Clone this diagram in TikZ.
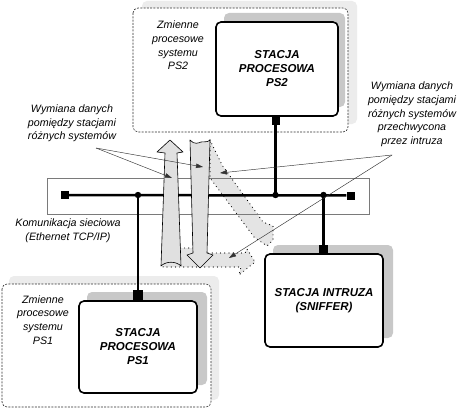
\documentclass[tikz,border=0pt]{standalone}
\usepackage{fontspec}
\setmainfont{Liberation Sans}
\usetikzlibrary{arrows.meta}
\definecolor{shadowgray}{HTML}{C8C8C8}
\definecolor{framegray}{HTML}{ECECEC}
\definecolor{arrowfill}{HTML}{E0E0E0}
\definecolor{bandfill}{HTML}{E4E4E4}
\definecolor{netgray}{HTML}{7A7A7A}
\definecolor{dashgray}{HTML}{303030}
\begin{document}
\begin{tikzpicture}[x=1pt,y=-1pt,
  stationbox/.style={draw=black,line width=1.6pt,rounded corners=5pt,fill=white,inner sep=0pt,align=center,
    font=\fontsize{11.5}{14}\selectfont\bfseries\itshape},
  boxshadow/.style={fill=shadowgray,rounded corners=5pt},
  frameshadow/.style={fill=framegray,rounded corners=5pt},
  sysframe/.style={draw=dashgray,line width=0.6pt,dash pattern=on 2pt off 1.3pt,rounded corners=5pt},
  labeltext/.style={align=center,inner sep=0pt,font=\fontsize{10.7}{13.7}\selectfont\itshape},
  termsq/.style={fill=black,inner sep=0pt,draw=none},
  busline/.style={line width=2.5pt,black},
  netbox/.style={draw=netgray,line width=0.6pt},
  bigarrow/.style={fill=arrowfill,draw=black,line width=0.6pt,line join=round},
  dotband/.style={fill=bandfill,draw=black,line width=1.2pt,dash pattern=on 0pt off 4.2pt,line cap=round,line join=round},
  leader/.style={draw=black!80,line width=0.45pt,-{Triangle[length=7pt,width=4.5pt]}}
]
\useasboundingbox[fill=white] (0,0) rectangle (462,409);

% ---- system frames (PS2, PS1) ----
\fill[frameshadow] (142,1) rectangle (357,124);
\draw[sysframe,fill=white] (133,8) rectangle (348,132);
\fill[frameshadow] (9,276) rectangle (219,400);
\draw[sysframe,fill=white] (2,284) rectangle (211,407);

\node[labeltext] (lab2) at (178,45.5) {Zmienne\\procesowe\\systemu\\PS2};
\node[labeltext] (lab1) at (43,320) {Zmienne\\procesowe\\systemu\\PS1};

% ---- stations ----
\fill[boxshadow] (224,13) rectangle (345,107);
\node[stationbox,minimum width=122pt,minimum height=94pt] (ps2) at (277,69) {STACJA\\PROCESOWA\\PS2};
\fill[boxshadow] (87,292) rectangle (207,385);
\node[stationbox,minimum width=118pt,minimum height=92pt] (ps1) at (138,347) {STACJA\\PROCESOWA\\PS1};
\fill[boxshadow] (273,245) rectangle (393,338);
\node[stationbox,minimum width=118pt,minimum height=93pt] (snf) at (324,300.5) {STACJA INTRUZA\\(SNIFFER)};

% ---- intercepted flows (dotted bands, behind) ----
\path[dotband] (210,140) -- (222,165) -- (263,222) -- (273,226) -- (273,240) -- (267,246) -- (254,237) -- (210,178) -- cycle;
\path[dotband] (172,248) -- (200,248) -- (206,253) -- (245,253) -- (247,249) -- (255,262) -- (239,275) -- (241,267) -- (163,267) -- cycle;

% ---- network ----
\draw[netbox] (47,178) rectangle (369,214);
\node[termsq,minimum width=8pt,minimum height=8pt] (tl) at (65,195) {};
\node[termsq,minimum width=8pt,minimum height=8pt] (tr) at (350.5,195.5) {};
\coordinate (j1) at (138,195);
\coordinate (j2) at (275.5,195);
\coordinate (j3) at (323.5,195);
\node[termsq,minimum width=8pt,minimum height=9pt] (sq2) at (275.5,120) {};
\node[termsq,minimum width=10pt,minimum height=11pt] (sq1) at (138,295.5) {};
\node[termsq,minimum width=9pt,minimum height=9pt] (sq3) at (323.5,249.5) {};
\draw[busline] (tl) -- (tr);
\draw[busline] (j2) -- (sq2);
\draw[busline] (j1) -- (sq1);
\draw[busline] (j3) -- (sq3);
\fill (j1) circle (3.2);
\fill (j2) circle (3.2);
\fill (j3) circle (3.2);

\node[labeltext] (netlab) at (68,231) {Komunikacja sieciowa\\(Ethernet TCP/IP)};

% ---- data exchange arrows ----
\path[bigarrow] (170,140) -- (183,152) -- (177,153) -- (181,266)
   .. controls (176,261) and (166,261) .. (161,266) -- (165,153) -- (157,152) -- cycle;
\path[bigarrow] (190,140) .. controls (194,145) and (199,143) .. (201,142)
   .. controls (204,141) and (207,143) .. (210,140)
   -- (207,253) -- (213,255) -- (200,268) -- (187,255) -- (193,253) -- cycle;

% ---- annotations ----
\node[labeltext] (txtL) at (72,123.5) {Wymiana danych\\pomiędzy stacjami\\różnych systemów};
\node[labeltext] (txtR) at (412,114.5) {Wymiana danych\\pomiędzy stacjami\\różnych systemów\\przechwycona\\przez intruza};
\coordinate (lA) at (96,148);
\coordinate (rA) at (392,155);
\coordinate (tU) at (172,178);
\coordinate (tD) at (203,167);
\coordinate (tB) at (220,173);
\coordinate (tH) at (229,258);
\draw[leader] (lA) -- (tU);
\draw[leader] (lA) -- (tD);
\draw[leader] (rA) -- (tB);
\draw[leader] (rA) -- (tH);
\end{tikzpicture}
\end{document}
